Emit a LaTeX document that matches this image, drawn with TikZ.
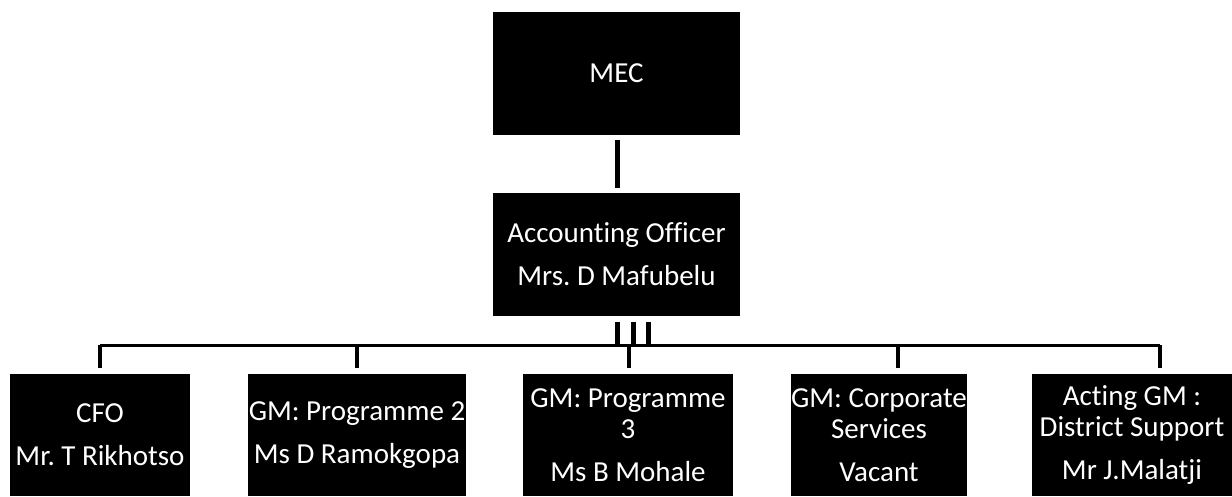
\documentclass[tikz,border=0pt]{standalone}
\usepackage{fontspec}
\setmainfont{Carlito}[Ligatures={NoCommon}]
\frenchspacing
\begin{document}
\begin{tikzpicture}[x=1pt,y=-1pt,
  orgbox/.style={fill=black,draw=none,text=white,inner sep=0pt,align=center,
    font=\fontsize{29}{31}\selectfont\frenchspacing},
  conn/.style={line width=5pt,draw=black},
  drop/.style={line width=4pt,draw=black},
  busline/.style={line width=3pt,draw=black}]
\useasboundingbox (0,0) rectangle (1232,496);
\node[orgbox,minimum width=247pt,minimum height=123pt] (mec) at (616.5,73.5) {MEC};
\node[orgbox,minimum width=247pt,minimum height=123pt] (ao) at (616.5,254.5) {Accounting Officer\\[12pt]Mrs. D Mafubelu};
\node[orgbox,minimum width=180pt,minimum height=122pt] (b1) at (100,435) {CFO\\[12pt]Mr. T Rikhotso};
\node[orgbox,minimum width=218pt,minimum height=122pt] (b2) at (357,435) {GM: Programme 2\\[12pt]Ms D Ramokgopa};
\node[orgbox,minimum width=210pt,minimum height=122pt] (b3) at (628,435) {GM: Programme\\3\\[12pt]Ms B Mohale};
\node[orgbox,minimum width=172pt,minimum height=122pt] (b4) at (879,435) {GM: Corporate\\Services\\[12pt]Vacant};
\node[orgbox,minimum width=200pt,minimum height=122pt] (b5) at (1132,435) {Acting GM :\\District Support\\[12pt]Mr J.Malatji};
\coordinate (bus) at (0,345);
% MEC to Accounting Officer
\draw[conn,shorten <=5pt,shorten >=5pt] ([xshift=0.5pt]mec.south) -- ([xshift=0.5pt]ao.north);
% three lines from Accounting Officer to bus
\draw[conn,shorten <=6pt] ([xshift=0.5pt]ao.south) -- ([xshift=0.5pt]ao.south |- bus);
\draw[conn,shorten <=6pt] ([xshift=16.5pt]ao.south) -- ([xshift=16.5pt]ao.south |- bus);
\draw[conn,shorten <=6pt] ([xshift=31.5pt]ao.south) -- ([xshift=31.5pt]ao.south |- bus);
% bus
\draw[busline] (b1.north |- bus) -- ([xshift=28pt]b5.north |- bus);
% drops
\draw[drop,shorten <=6pt] (b1.north) -- (b1.north |- bus);
\draw[drop,shorten <=6pt] (b2.north) -- (b2.north |- bus);
\draw[drop,shorten <=6pt] ([xshift=1pt]b3.north) -- ([xshift=1pt]b3.north |- bus);
\draw[drop,shorten <=6pt] ([xshift=19pt]b4.north) -- ([xshift=19pt]b4.north |- bus);
\draw[drop,shorten <=6pt] ([xshift=28pt]b5.north) -- ([xshift=28pt]b5.north |- bus);
\end{tikzpicture}
\end{document}
